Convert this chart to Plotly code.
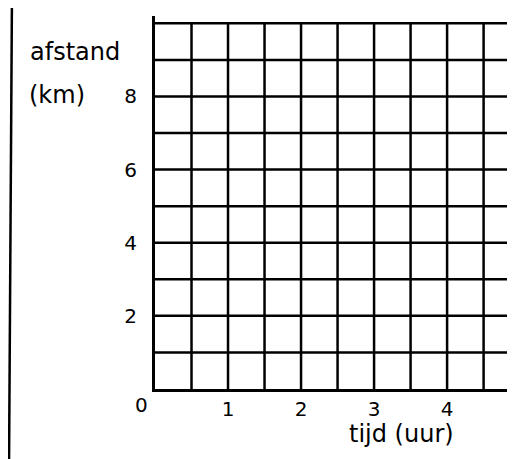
import plotly.graph_objects as go

# Axis values / labels
x_tick_vals = [1, 2, 3, 4]
x_tick_text = ["1", "2", "3", "4"]
x_origin_label = "0"
y_tick_vals = [2, 4, 6, 8]
y_tick_text = ["2", "4", "6", "8"]
x_grid = [0.5, 1, 1.5, 2, 2.5, 3, 3.5, 4, 4.5]
y_grid = [1, 2, 3, 4, 5, 6, 7, 8, 9, 10]
x_title = "tijd (uur)"
y_title_1 = "afstand"
y_title_2 = "(km)"

X_MAX = 4.93
Y_MAX = 10
Y_TOP = 10.2

font_family = "DejaVu Sans"

# page offset (browser body margin) compensation
OFF = 8
L, T = 155 - OFF, 16 - OFF
PLOT_W, PLOT_H = 360, 373
W, H = 515, 459
R = W - L - PLOT_W
B = H - T - PLOT_H


def px_to_paper_x(px):
    return (px - 155) / PLOT_W


def px_to_paper_y(py):
    return (389 - py) / PLOT_H


fig = go.Figure()

# vertical grid lines
vx, vy = [], []
for gx in x_grid:
    vx += [gx, gx, None]
    vy += [0, Y_MAX, None]
fig.add_trace(go.Scatter(x=vx, y=vy, mode="lines",
                         line=dict(color="black", width=2.5),
                         hoverinfo="skip", showlegend=False))

# horizontal grid lines
hx, hy = [], []
for gy in y_grid:
    hx += [0, X_MAX, None]
    hy += [gy, gy, None]
fig.add_trace(go.Scatter(x=hx, y=hy, mode="lines",
                         line=dict(color="black", width=2.5),
                         hoverinfo="skip", showlegend=False))

fig.update_layout(
    width=W, height=H,
    margin=dict(l=L, r=R, t=T, b=B, pad=0),
    paper_bgcolor="white", plot_bgcolor="white",
    font=dict(family=font_family, color="black", size=20),
    xaxis=dict(range=[0, X_MAX], showgrid=False, zeroline=False,
               showline=True, linecolor="black", linewidth=3,
               tickvals=x_tick_vals, ticktext=x_tick_text, ticks="",
               ticklabelstandoff=0, tickfont=dict(size=20)),
    yaxis=dict(range=[0, Y_TOP], showgrid=False, zeroline=False,
               showline=True, linecolor="black", linewidth=3,
               tickvals=y_tick_vals, ticktext=y_tick_text, ticks="",
               ticklabelstandoff=11, tickfont=dict(size=20)),
    shapes=[
        # left page border
        dict(type="line", xref="paper", yref="paper",
             x0=px_to_paper_x(9), x1=px_to_paper_x(12),
             y0=px_to_paper_y(470), y1=px_to_paper_y(-10),
             line=dict(color="black", width=2.5)),
    ],
    annotations=[
        dict(x=px_to_paper_x(141), y=px_to_paper_y(405), xref="paper", yref="paper",
             text=x_origin_label, showarrow=False, xanchor="center", yanchor="middle",
             font=dict(size=20)),
        dict(x=px_to_paper_x(401), y=px_to_paper_y(434), xref="paper", yref="paper",
             text=x_title, showarrow=False, xanchor="center", yanchor="middle",
             font=dict(size=24)),
        dict(x=px_to_paper_x(75), y=px_to_paper_y(52), xref="paper", yref="paper",
             text=y_title_1, showarrow=False, xanchor="center", yanchor="middle",
             font=dict(size=24)),
        dict(x=px_to_paper_x(57), y=px_to_paper_y(95), xref="paper", yref="paper",
             text=y_title_2, showarrow=False, xanchor="center", yanchor="middle",
             font=dict(size=24)),
    ],
)

fig.write_html("out.html")
